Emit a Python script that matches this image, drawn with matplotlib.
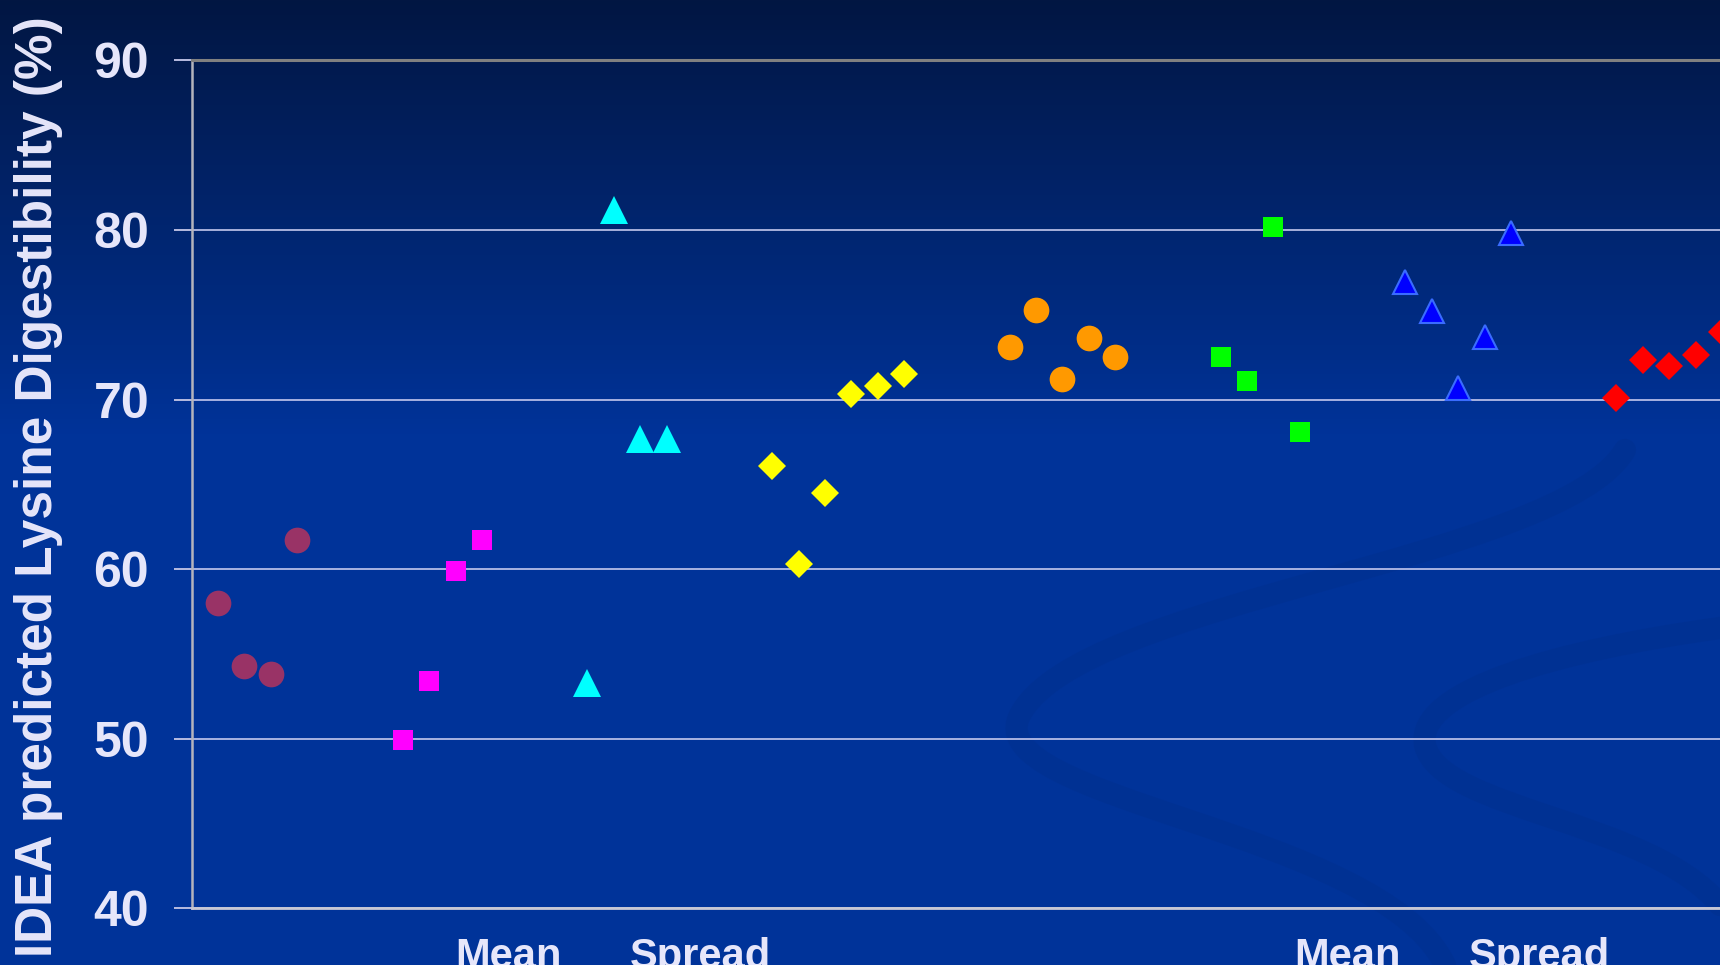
import numpy as np
import matplotlib
matplotlib.use("Agg")
import matplotlib.pyplot as plt
from matplotlib.path import Path
import matplotlib.patches as patches
import matplotlib.transforms as transforms

plt.rcParams['font.family'] = ['Liberation Sans', 'DejaVu Sans']
plt.rcParams['font.weight'] = 'bold'

# data (x = sample slot, y = predicted lysine digestibility %)
circle_x = [1, 2, 3, 4]
circle_y = [58.0, 54.3, 53.8, 61.7]
magenta_x = [8, 9, 10, 11]
magenta_y = [49.9, 53.4, 59.9, 61.7]
cyan_x = [15, 16, 17, 18]
cyan_y = [53.3, 81.2, 67.7, 67.7]
yellow_x = [22, 23, 24, 25, 26, 27]
yellow_y = [66.1, 60.3, 64.5, 70.3, 70.8, 71.5]
orange_x = [31, 32, 33, 34, 35]
orange_y = [73.1, 75.3, 71.2, 73.6, 72.5]
green_x = [39, 40, 41, 42]
green_y = [72.5, 71.1, 80.2, 68.1]
blue_x = [46, 47, 48, 49, 50]
blue_y = [76.9, 75.2, 70.7, 73.7, 79.8]
red_x = [54, 55, 56, 57, 58]
red_y = [70.1, 72.3, 72.0, 72.6, 74.0]

group_labels = ['Mean', 'Spread', 'Mean', 'Spread']
group_label_x = [12.0, 19.3, 43.8, 51.1]

y_ticks = [40, 50, 60, 70, 80, 90]

text_color = '#e6e6fa'

W, H = 1720, 965
fig = plt.figure(figsize=(W / 100, H / 100), dpi=100)

# slide background: dark navy at top fading into royal blue
bg = fig.add_axes([0, 0, 1, 1], zorder=0)
top = np.array([2, 22, 66]) / 255
mid = np.array([0, 51, 153]) / 255
t = np.clip(np.linspace(0, 1, H) / 0.45, 0, 1)[:, None]
grad = (top * (1 - t) + mid * t)[:, None, :]
bg.imshow(grad, aspect='auto', extent=[0, W, H, 0])

# faint swooshes in the lower right of the template
swoosh_color = '#00308f'
verts1 = [(1625, 450), (1560, 560), (1080, 600), (1020, 715),
          (975, 800), (1380, 830), (1445, 965)]
verts2 = [(1720, 628), (1560, 650), (1415, 690), (1425, 745),
          (1440, 810), (1650, 820), (1720, 905)]
codes = [Path.MOVETO] + [Path.CURVE4] * 6
for verts in [verts1, verts2]:
    bg.add_patch(patches.PathPatch(Path(verts, codes), fill=False,
                                   edgecolor=swoosh_color, lw=16, alpha=0.55,
                                   capstyle='round'))
bg.set_xlim(0, W)
bg.set_ylim(H, 0)
bg.axis('off')

# chart area
left, right_px, top_px, bottom_px = 191.7, W, 60.3, 908.3
ax = fig.add_axes([left / W, (H - bottom_px) / H, (right_px - left) / W,
                   (bottom_px - top_px) / H], zorder=2)
ax.set_facecolor('none')

ax.plot(circle_x, circle_y, ls='none', marker='o', ms=18.5, color='#993366',
        mew=0, clip_on=False, zorder=3)
ax.plot(magenta_x, magenta_y, ls='none', marker='s', ms=14.4, color='#ff00ff',
        mew=0, clip_on=False, zorder=3)
ax.plot(cyan_x, cyan_y, ls='none', marker='^', ms=20, color='#00ffff',
        mew=0, clip_on=False, zorder=3)
ax.plot(yellow_x, yellow_y, ls='none', marker='D', ms=14.3, color='#ffff00',
        mew=0, clip_on=False, zorder=3)
ax.plot(orange_x, orange_y, ls='none', marker='o', ms=18.5, color='#ff9900',
        mew=0, clip_on=False, zorder=3)
ax.plot(green_x, green_y, ls='none', marker='s', ms=14.4, color='#00ff00',
        mew=0, clip_on=False, zorder=3)
ax.plot(blue_x, blue_y, ls='none', marker='^', ms=17.8, color='#0000ff',
        mec='#3a6cff', mew=1.5, clip_on=False, zorder=3)
ax.plot(red_x, red_y, ls='none', marker='D', ms=14.3, color='#ff0000',
        mew=0, clip_on=False, zorder=3)

ax.set_xlim(0, (right_px - 189.6) / 26.42)
ax.set_ylim(40, 90)
ax.set_yticks(y_ticks)
ax.set_axisbelow(True)
ax.yaxis.grid(True, color='#c4c8ee', lw=1.2)
ax.tick_params(axis='y', direction='out', length=12.7, width=1.4,
               color='#b8bce0', pad=18, labelsize=36, labelcolor=text_color)
ax.tick_params(axis='x', bottom=False, labelbottom=False)

ax.spines['right'].set_visible(False)
ax.spines['left'].set_color('#b4b4bc')
ax.spines['left'].set_linewidth(1.8)
ax.spines['bottom'].set_color('#c8c8d4')
ax.spines['bottom'].set_linewidth(2)
ax.spines['top'].set_color('#808080')
ax.spines['top'].set_linewidth(2.2)

fig.text(52.5 / W, 1 - 487 / H, 'IDEA predicted Lysine Digestibility (%)',
         rotation=90, rotation_mode='anchor', ha='center', va='baseline',
         fontsize=37, fontweight='bold', color=text_color)

# group captions below the axis (cut off by the slide edge, as on the slide)
trans = transforms.blended_transform_factory(ax.transData, fig.transFigure)
for gx, lab in zip(group_label_x, group_labels):
    ax.text(gx, -3 / H, lab, transform=trans, ha='center', va='baseline',
            fontsize=30, fontweight='bold', color=text_color, clip_on=False)

fig.savefig('out.png', dpi=100)
